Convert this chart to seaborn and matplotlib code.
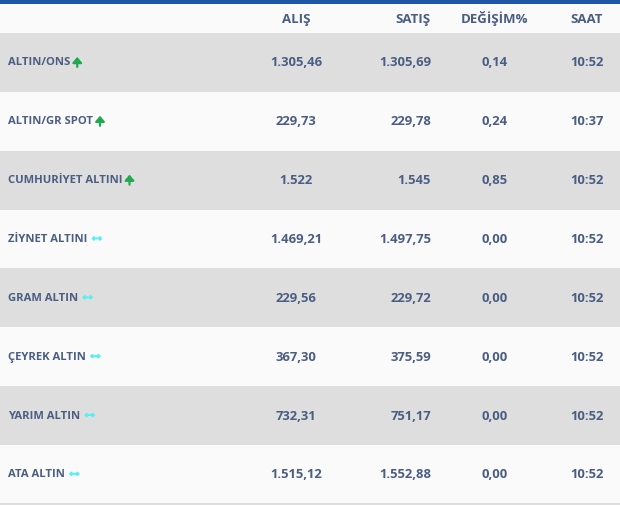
import numpy as np
import seaborn as sns
import matplotlib
matplotlib.use("Agg")
import matplotlib.pyplot as plt

headers = ["ALIŞ", "SATIŞ", "DEĞİŞİM%", "SAAT"]
names = ["ALTIN/ONS", "ALTIN/GR SPOT", "CUMHURİYET ALTINI", "ZİYNET ALTINI",
         "GRAM ALTIN", "ÇEYREK ALTIN", "YARIM ALTIN", "ATA ALTIN"]
alis = ["1.305,46", "229,73", "1.522", "1.469,21", "229,56", "367,30", "732,31", "1.515,12"]
satis = ["1.305,69", "229,78", "1.545", "1.497,75", "229,72", "375,59", "751,17", "1.552,88"]
degisim = ["0,14", "0,24", "0,85", "0,00", "0,00", "0,00", "0,00", "0,00"]
saat = ["10:52", "10:37", "10:52", "10:52", "10:52", "10:52", "10:52", "10:52"]
trend = ["up", "up", "up", "flat", "flat", "flat", "flat", "flat"]

W, H = 620, 505
TEXT = "#4a5d82"
ROW_TOP, ROW_H = 33, 58.85

sns.set_theme(style="white")
plt.rcParams['font.family'] = ['Open Sans', 'DejaVu Sans']

fig = plt.figure(figsize=(W / 100, H / 100), dpi=100, facecolor="#fafafa")

# striped rows come from a heatmap
ax = fig.add_axes([0, 1 - (ROW_TOP + 8 * ROW_H) / H, 1, 8 * ROW_H / H])
stripes = np.array([[(i + 1) % 2] for i in range(len(names))])
sns.heatmap(stripes, ax=ax, cbar=False, vmin=0, vmax=1, xticklabels=False, yticklabels=False,
            cmap=matplotlib.colors.ListedColormap(["#fafafa", "#dedede"]))

# full figure overlay in pixel coordinates
over = fig.add_axes([0, 0, 1, 1], facecolor="none")
over.set_xlim(0, W)
over.set_ylim(H, 0)
over.axis("off")
over.axhspan(0, 4, color="#1f57a6", lw=0)
over.axhspan(503, 505, color="#dedede", lw=0)

head_pos = [(296, "center"), (431, "right"), (495, "center"), (586.5, "center")]
for label, (x, ha) in zip(headers, head_pos):
    over.text(x, 23, label, ha=ha, va="baseline", fontsize=9.5, fontweight="bold", color=TEXT)

fig.canvas.draw()
renderer = fig.canvas.get_renderer()
for i, name in enumerate(names):
    y = ROW_TOP + ROW_H * (i + 0.5)
    t = over.text(8, y + 3, name, ha="left", va="baseline", fontsize=8.1, fontweight="bold", color=TEXT)
    end = t.get_window_extent(renderer).x1
    if trend[i] == "up":
        over.annotate("", xy=(end + 7, y - 5.5), xytext=(end + 7, y + 4.5),
                      arrowprops=dict(arrowstyle="-|>,head_width=0.23,head_length=0.27", color="#22a84f",
                                      lw=1.6, shrinkA=0, shrinkB=0))
    else:
        over.annotate("", xy=(end + 15, y - 0.5), xytext=(end + 4, y - 0.5),
                      arrowprops=dict(arrowstyle="<->,head_width=0.08,head_length=0.08", color="#55f0f5",
                                      lw=1.4, shrinkA=0, shrinkB=0))
    cells = [alis[i], satis[i], degisim[i], saat[i]]
    for val, (x, ha) in zip(cells, head_pos):
        over.text(x, y + 4, val, ha=ha, va="baseline", fontsize=9.4, fontweight="bold", color=TEXT)

fig.savefig("out.png", dpi=100, facecolor=fig.get_facecolor())
